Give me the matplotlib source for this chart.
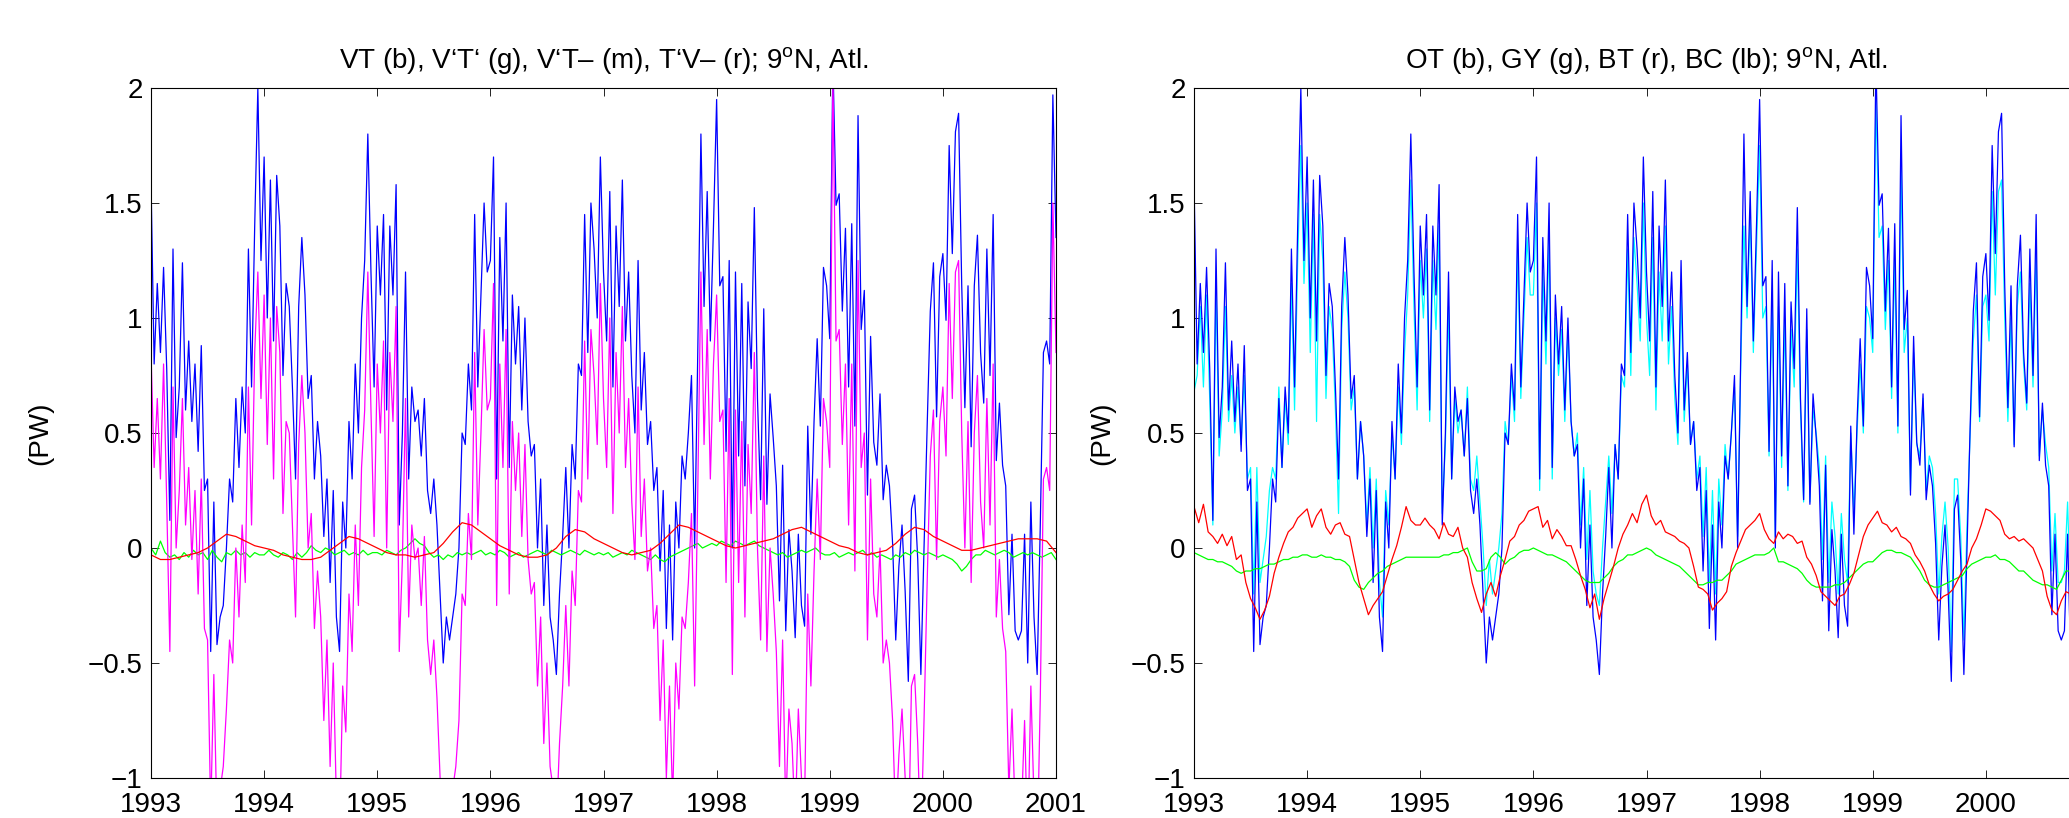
import matplotlib
matplotlib.use('Agg')
import matplotlib.pyplot as plt
import numpy as np

plt.rcParams['font.family'] = ['Liberation Sans', 'DejaVu Sans']
plt.rcParams['mathtext.fontset'] = 'custom'
plt.rcParams['mathtext.rm'] = 'Liberation Sans'

# ---- data: 10-day samples (36 per year) ----
blue_1993 = [1.60, 0.80, 1.15, 0.85, 1.22, 0.78, 0.12, 1.30, 0.48, 0.70, 1.24, 0.60, 0.90, 0.55, 0.80, 0.42, 0.88, 0.25,
             0.30, -0.45, 0.20, -0.42, -0.30, -0.25, 0.00, 0.30, 0.20, 0.65, 0.35, 0.70, 0.50, 1.30, 0.70, 1.40, 2.00, 1.25]
blue_1994 = [1.70, 1.00, 1.60, 0.90, 1.62, 1.40, 0.75, 1.15, 1.05, 0.70, 0.30, 1.05, 1.35, 1.10, 0.65, 0.75, 0.30, 0.55,
             0.40, 0.05, 0.30, -0.15, 0.25, -0.30, -0.45, 0.20, 0.00, 0.55, 0.30, 0.80, 0.50, 1.00, 1.25, 1.80, 1.20, 0.70]
blue_1995 = [1.40, 1.10, 1.45, 0.60, 1.40, 1.10, 1.58, 0.10, 0.50, 1.20, 0.30, 0.70, 0.55, 0.60, 0.40, 0.65, 0.25, 0.15,
             0.30, 0.10, -0.20, -0.50, -0.30, -0.40, -0.30, -0.20, 0.00, 0.50, 0.45, 0.80, 0.60, 1.45, 0.70, 1.10, 1.50, 1.20]
blue_1996 = [1.25, 1.70, 0.30, 1.35, 0.90, 1.50, 0.35, 1.10, 0.80, 1.05, 0.60, 1.00, 0.55, 0.40, 0.45, 0.00, 0.30, -0.25,
             0.10, -0.30, -0.40, -0.55, -0.20, 0.05, 0.35, 0.00, 0.45, 0.30, 0.80, 0.75, 1.45, 0.85, 1.50, 1.30, 1.00, 1.70]
blue_1997 = [1.20, 0.90, 1.55, 0.70, 1.40, 1.05, 1.60, 0.90, 1.20, 0.75, 0.50, 1.25, 0.60, 0.85, 0.45, 0.55, 0.25, 0.35,
             -0.10, 0.25, -0.35, 0.10, -0.40, 0.20, 0.00, 0.40, 0.30, 0.50, 0.75, 0.00, 0.85, 1.80, 1.05, 1.55, 0.90, 1.40]
blue_1998 = [1.95, 1.14, 1.18, 0.42, 1.25, 0.00, 1.20, 0.40, 1.15, 0.27, 1.07, 0.78, 1.48, 0.65, 0.21, 1.04, 0.19, 0.67,
             0.48, 0.27, -0.23, 0.36, -0.36, 0.08, -0.10, -0.39, 0.06, -0.25, -0.34, 0.53, 0.06, 0.55, 0.91, 0.53, 1.22, 1.14]
blue_1999 = [0.91, 2.12, 1.49, 1.54, 1.03, 1.39, 0.70, 1.41, 0.53, 1.88, 0.95, 1.12, 0.23, 0.92, 0.46, 0.36, 0.67, 0.21,
             0.36, 0.27, 0.02, -0.40, -0.08, 0.10, -0.19, -0.58, 0.17, 0.23, -0.05, -0.55, 0.00, 0.53, 1.03, 1.24, 0.57, 1.18]
blue_2000 = [1.28, 0.99, 1.75, 1.28, 1.81, 1.89, 1.14, 0.61, 1.14, 0.44, 1.14, 1.36, 0.85, 0.63, 1.30, 0.75, 1.45, 0.38,
             0.63, 0.36, 0.27, -0.29, 0.06, -0.36, -0.40, -0.36, 0.06, -0.50, 0.20, -0.30, -0.55, 0.10, 0.85, 0.90, 0.80, 1.97]
blue_end = [1.35]

mag_1993 = [0.85, 0.35, 0.65, 0.30, 0.80, 0.20, -0.45, 0.70, 0.00, 0.25, 0.65, 0.10, 0.35, -0.05, 0.25, -0.20, 0.30, -0.35,
            -0.40, -1.15, -0.55, -1.20, -1.05, -0.95, -0.70, -0.40, -0.50, 0.00, -0.30, 0.10, -0.15, 0.70, 0.10, 0.85, 1.20, 0.65]
mag_1994 = [1.10, 0.45, 1.00, 0.30, 1.05, 0.85, 0.15, 0.55, 0.50, 0.10, -0.30, 0.45, 0.75, 0.50, 0.00, 0.15, -0.35, -0.10,
            -0.30, -0.75, -0.40, -0.95, -0.50, -1.10, -1.25, -0.60, -0.80, -0.20, -0.45, 0.10, -0.25, 0.35, 0.60, 1.20, 0.60, 0.05]
mag_1995 = [0.80, 0.50, 0.90, 0.00, 0.85, 0.55, 1.05, -0.45, -0.05, 0.65, -0.30, 0.10, -0.05, 0.00, -0.25, 0.05, -0.40, -0.55,
            -0.40, -0.65, -1.00, -1.30, -1.10, -1.20, -1.05, -0.95, -0.75, -0.20, -0.25, 0.15, -0.05, 0.85, 0.10, 0.50, 0.95, 0.60]
mag_1996 = [0.65, 1.15, -0.25, 0.80, 0.35, 0.95, -0.20, 0.55, 0.25, 0.50, 0.05, 0.45, -0.05, -0.20, -0.15, -0.60, -0.30, -0.85,
            -0.50, -0.95, -1.05, -1.20, -0.85, -0.60, -0.25, -0.60, -0.10, -0.25, 0.25, 0.20, 0.90, 0.30, 0.95, 0.75, 0.45, 1.15]
mag_1997 = [0.65, 0.35, 1.00, 0.15, 0.85, 0.50, 1.05, 0.35, 0.65, 0.20, -0.05, 0.70, 0.05, 0.30, -0.10, 0.00, -0.35, -0.25,
            -0.75, -0.40, -1.00, -0.60, -1.10, -0.50, -0.70, -0.30, -0.35, -0.15, 0.15, -0.60, 0.25, 1.20, 0.45, 0.95, 0.30, 0.80]
mag_1998 = [1.10, 0.55, 0.60, -0.15, 0.65, -0.55, 0.60, -0.15, 0.55, -0.30, 0.45, 0.15, 0.85, 0.00, -0.40, 0.40, -0.45, 0.00,
            -0.20, -0.45, -0.95, -0.40, -1.15, -0.70, -0.85, -1.20, -0.70, -1.00, -1.10, -0.20, -0.60, -0.10, 0.30, -0.05, 0.65, 0.55]
mag_1999 = [0.35, 2.05, 0.90, 0.95, 0.45, 0.80, 0.10, 0.80, -0.10, 1.25, 0.35, 0.50, -0.40, 0.30, -0.20, -0.30, 0.00, -0.50,
            -0.40, -0.50, -0.75, -1.20, -0.90, -0.70, -1.00, -1.35, -0.60, -0.55, -0.85, -1.30, -0.75, -0.15, 0.40, 0.60, -0.05, 0.55]
mag_2000 = [0.70, 0.40, 1.15, 0.65, 1.20, 1.25, 0.50, 0.00, 0.55, -0.15, 0.50, 0.75, 0.20, 0.00, 0.65, 0.10, 0.80, -0.30,
            -0.05, -0.35, -0.45, -1.05, -0.70, -1.15, -1.20, -1.15, -0.75, -1.30, -0.60, -1.10, -1.35, -0.65, 0.30, 0.35, 0.25, 1.50]
mag_end = [0.85]

cyan_1993 = [0.68, 0.75, 1.05, 0.70, 1.10, 0.65, 0.10, 1.15, 0.40, 0.60, 1.05, 0.55, 0.75, 0.50, 0.70, 0.45, 0.75, 0.30,
             0.35, -0.20, 0.35, -0.15, -0.05, 0.05, 0.25, 0.35, 0.30, 0.70, 0.35, 0.65, 0.45, 1.15, 0.60, 1.25, 1.75, 1.15]
cyan_1994 = [1.50, 0.85, 1.45, 0.55, 1.45, 1.25, 0.65, 1.05, 0.95, 0.60, 0.15, 0.95, 1.20, 1.00, 0.60, 0.70, 0.30, 0.55,
             0.40, 0.10, 0.35, 0.00, 0.30, -0.15, -0.30, 0.25, 0.10, 0.50, 0.30, 0.70, 0.45, 0.85, 1.10, 1.60, 1.05, 0.60]
cyan_1995 = [1.25, 1.00, 1.30, 0.55, 1.25, 0.95, 1.40, 0.15, 0.45, 1.05, 0.30, 0.65, 0.50, 0.60, 0.40, 0.70, 0.30, 0.25,
             0.40, 0.20, 0.00, -0.25, -0.05, -0.20, -0.10, 0.00, 0.15, 0.55, 0.45, 0.75, 0.55, 1.30, 0.65, 1.00, 1.35, 1.10]
cyan_1996 = [1.10, 1.50, 0.25, 1.20, 0.80, 1.35, 0.30, 1.00, 0.75, 0.95, 0.55, 0.95, 0.55, 0.40, 0.50, 0.10, 0.35, -0.05,
             0.25, -0.10, -0.20, -0.25, 0.00, 0.20, 0.40, 0.15, 0.45, 0.30, 0.75, 0.70, 1.30, 0.75, 1.35, 1.15, 0.90, 1.50]
cyan_1997 = [1.00, 0.75, 1.35, 0.60, 1.20, 0.90, 1.40, 0.80, 1.05, 0.65, 0.45, 1.10, 0.55, 0.80, 0.45, 0.55, 0.30, 0.40,
             0.05, 0.35, -0.15, 0.25, -0.20, 0.30, 0.10, 0.45, 0.30, 0.50, 0.70, 0.05, 0.80, 1.40, 1.00, 1.45, 0.85, 1.30]
cyan_1998 = [1.75, 1.00, 1.05, 0.40, 1.10, 0.05, 1.05, 0.35, 1.00, 0.25, 0.95, 0.70, 1.30, 0.60, 0.20, 0.95, 0.20, 0.60,
             0.50, 0.35, -0.05, 0.40, -0.15, 0.20, 0.05, -0.20, 0.15, -0.05, -0.15, 0.50, 0.15, 0.50, 0.80, 0.50, 1.05, 1.00]
cyan_1999 = [0.85, 1.95, 1.35, 1.40, 0.95, 1.25, 0.65, 1.25, 0.50, 1.65, 0.85, 1.00, 0.25, 0.85, 0.45, 0.40, 0.65, 0.25,
             0.40, 0.35, 0.15, -0.20, 0.05, 0.20, 0.00, -0.45, 0.30, 0.30, 0.05, -0.40, 0.10, 0.50, 0.90, 1.10, 0.55, 1.05]
cyan_2000 = [1.10, 0.90, 1.55, 1.10, 1.55, 1.60, 1.00, 0.55, 1.00, 0.45, 1.05, 1.20, 0.80, 0.60, 1.15, 0.70, 1.30, 0.40,
             0.60, 0.45, 0.35, -0.10, 0.15, -0.15, -0.15, -0.10, 0.20, -0.25, 0.30, -0.05, -0.30, 0.25, 0.80, 0.85, 0.75, 1.75]
cyan_end = [1.20]

# ---- data: half-monthly samples (24 per year) ----
bt_1993 = [0.18, 0.11, 0.19, 0.07, 0.05, 0.02, 0.06, 0.01, 0.05, -0.05, -0.03, -0.15,
           -0.22, -0.26, -0.31, -0.27, -0.21, -0.11, -0.04, 0.02, 0.07, 0.09, 0.13, 0.15]
bt_1994 = [0.17, 0.09, 0.14, 0.17, 0.09, 0.06, 0.10, 0.11, 0.06, 0.05, -0.05, -0.15,
           -0.22, -0.29, -0.25, -0.22, -0.19, -0.12, -0.05, 0.01, 0.09, 0.18, 0.12, 0.10]
bt_1995 = [0.10, 0.13, 0.10, 0.08, 0.04, 0.11, 0.06, 0.05, 0.09, 0.00, -0.04, -0.15,
           -0.22, -0.28, -0.20, -0.15, -0.21, -0.12, -0.05, 0.03, 0.05, 0.10, 0.12, 0.16]
bt_1996 = [0.17, 0.18, 0.09, 0.12, 0.04, 0.08, 0.05, 0.01, 0.01, -0.05, -0.12, -0.18,
           -0.26, -0.20, -0.31, -0.22, -0.15, -0.08, 0.00, 0.06, 0.10, 0.15, 0.11, 0.19]
bt_1997 = [0.23, 0.14, 0.10, 0.12, 0.07, 0.06, 0.05, 0.03, 0.02, 0.00, -0.08, -0.17,
           -0.18, -0.20, -0.27, -0.24, -0.22, -0.19, -0.08, -0.02, 0.03, 0.08, 0.10, 0.12]
bt_1998 = [0.15, 0.08, 0.04, 0.02, 0.07, 0.04, 0.06, 0.05, 0.02, 0.03, -0.04, -0.07,
           -0.12, -0.19, -0.21, -0.23, -0.25, -0.21, -0.20, -0.16, -0.11, -0.03, 0.05, 0.10]
bt_1999 = [0.13, 0.16, 0.11, 0.10, 0.07, 0.09, 0.05, 0.04, 0.02, -0.03, -0.06, -0.10,
           -0.16, -0.20, -0.23, -0.21, -0.20, -0.18, -0.14, -0.10, -0.07, 0.00, 0.04, 0.10]
bt_2000 = [0.17, 0.16, 0.14, 0.12, 0.06, 0.04, 0.05, 0.03, 0.04, 0.02, 0.00, -0.05,
           -0.10, -0.21, -0.27, -0.29, -0.23, -0.19, -0.20, -0.15, -0.08, 0.00, 0.06, 0.10]
bt_end = [0.12]

gy_1993 = [-0.02, -0.03, -0.04, -0.05, -0.05, -0.06, -0.06, -0.07, -0.08, -0.10, -0.11, -0.10,
           -0.10, -0.09, -0.09, -0.08, -0.07, -0.07, -0.06, -0.05, -0.05, -0.04, -0.04, -0.03]
gy_1994 = [-0.03, -0.04, -0.04, -0.03, -0.04, -0.04, -0.05, -0.05, -0.06, -0.08, -0.14, -0.17,
           -0.18, -0.15, -0.13, -0.11, -0.10, -0.08, -0.07, -0.06, -0.05, -0.04, -0.04, -0.04]
gy_1995 = [-0.04, -0.04, -0.04, -0.04, -0.04, -0.03, -0.03, -0.02, -0.02, -0.01, 0.00, -0.06,
           -0.10, -0.10, -0.09, -0.04, -0.02, -0.04, -0.07, -0.05, -0.04, -0.02, -0.01, -0.01]
gy_1996 = [0.00, -0.01, -0.02, -0.03, -0.03, -0.04, -0.05, -0.06, -0.08, -0.10, -0.12, -0.14,
           -0.15, -0.15, -0.15, -0.13, -0.11, -0.08, -0.06, -0.05, -0.03, -0.03, -0.02, -0.01]
gy_1997 = [0.00, -0.01, -0.03, -0.04, -0.05, -0.06, -0.07, -0.08, -0.10, -0.12, -0.14, -0.16,
           -0.16, -0.15, -0.15, -0.14, -0.14, -0.12, -0.10, -0.07, -0.06, -0.05, -0.04, -0.03]
gy_1998 = [-0.03, -0.03, -0.02, 0.00, -0.06, -0.06, -0.07, -0.08, -0.09, -0.11, -0.14, -0.16,
           -0.17, -0.17, -0.17, -0.17, -0.16, -0.16, -0.15, -0.13, -0.11, -0.09, -0.07, -0.06]
gy_1999 = [-0.06, -0.04, -0.02, -0.01, -0.01, -0.02, -0.02, -0.03, -0.04, -0.07, -0.10, -0.14,
           -0.16, -0.17, -0.17, -0.16, -0.15, -0.14, -0.13, -0.12, -0.09, -0.07, -0.06, -0.05]
gy_2000 = [-0.04, -0.04, -0.03, -0.05, -0.05, -0.06, -0.08, -0.10, -0.10, -0.12, -0.14, -0.15,
           -0.16, -0.16, -0.17, -0.18, -0.14, -0.10, -0.10, -0.08, -0.06, -0.05, -0.04, -0.03]
gy_end = [-0.03]

vptp_1993 = [0.00, -0.03, 0.03, -0.02, -0.04, -0.03, -0.05, -0.02, -0.04, -0.01, -0.03, -0.02,
             -0.05, -0.01, -0.04, -0.06, -0.02, -0.03, -0.01, -0.03, -0.02, -0.04, -0.02, -0.03]
vptp_1994 = [-0.03, -0.01, -0.03, -0.04, -0.02, -0.03, -0.05, -0.02, -0.04, -0.02, 0.01, -0.01,
             -0.02, 0.00, -0.01, -0.03, -0.02, -0.01, -0.03, -0.02, -0.03, -0.01, -0.03, -0.02]
vptp_1995 = [-0.02, -0.03, -0.01, -0.02, -0.03, -0.01, 0.00, 0.02, 0.04, 0.02, 0.01, -0.02,
             -0.04, -0.03, -0.05, -0.03, -0.04, -0.02, -0.03, -0.02, -0.03, -0.02, -0.01, -0.03]
vptp_1996 = [-0.02, -0.03, -0.01, -0.02, -0.04, -0.03, -0.02, -0.04, -0.03, -0.02, -0.01, -0.02,
             -0.03, -0.01, -0.02, -0.03, -0.02, -0.01, -0.02, -0.03, -0.01, -0.02, -0.03, -0.02]
vptp_1997 = [-0.03, -0.02, -0.04, -0.03, -0.02, -0.03, -0.01, -0.02, -0.03, -0.04, -0.05, -0.03,
             -0.05, -0.06, -0.04, -0.03, -0.02, -0.01, 0.00, 0.01, 0.02, 0.00, 0.01, 0.02]
vptp_1998 = [0.01, 0.03, 0.02, 0.01, 0.03, 0.02, 0.01, 0.02, 0.03, 0.01, 0.00, -0.01,
             -0.02, -0.03, -0.02, -0.04, -0.03, -0.02, -0.01, -0.02, -0.01, 0.00, -0.02, -0.03]
vptp_1999 = [-0.03, -0.02, -0.04, -0.03, -0.02, -0.03, -0.02, -0.01, -0.03, -0.02, -0.04, -0.03,
             -0.04, -0.05, -0.03, -0.04, -0.02, -0.03, -0.01, -0.02, -0.03, -0.02, -0.03, -0.04]
vptp_2000 = [-0.03, -0.04, -0.05, -0.07, -0.10, -0.08, -0.05, -0.03, -0.03, -0.01, -0.02, -0.03,
             -0.02, -0.01, -0.02, -0.04, -0.03, -0.02, -0.03, -0.02, -0.03, -0.04, -0.03, -0.02]
vptp_end = [-0.05]

# ---- data: monthly samples (12 per year) ----
tpvm_1993 = [-0.03, -0.05, -0.05, -0.04, -0.03, -0.02, 0.00, 0.03, 0.06, 0.05, 0.03, 0.01]
tpvm_1994 = [0.00, -0.01, -0.03, -0.04, -0.05, -0.05, -0.04, -0.01, 0.02, 0.05, 0.04, 0.02]
tpvm_1995 = [0.00, -0.02, -0.03, -0.03, -0.04, -0.03, -0.02, 0.02, 0.07, 0.11, 0.10, 0.07]
tpvm_1996 = [0.04, 0.01, -0.01, -0.03, -0.04, -0.04, -0.03, 0.00, 0.05, 0.08, 0.07, 0.04]
tpvm_1997 = [0.02, 0.00, -0.02, -0.03, -0.02, -0.01, 0.02, 0.06, 0.10, 0.09, 0.07, 0.05]
tpvm_1998 = [0.03, 0.01, 0.00, 0.01, 0.02, 0.03, 0.04, 0.06, 0.08, 0.09, 0.07, 0.05]
tpvm_1999 = [0.03, 0.01, 0.00, -0.02, -0.03, -0.02, -0.01, 0.02, 0.06, 0.09, 0.08, 0.05]
tpvm_2000 = [0.03, 0.01, -0.01, -0.01, 0.00, 0.01, 0.02, 0.03, 0.04, 0.04, 0.04, 0.03]
tpvm_end = [-0.02]

vt = blue_1993 + blue_1994 + blue_1995 + blue_1996 + blue_1997 + blue_1998 + blue_1999 + blue_2000 + blue_end
vptm = mag_1993 + mag_1994 + mag_1995 + mag_1996 + mag_1997 + mag_1998 + mag_1999 + mag_2000 + mag_end
bc = cyan_1993 + cyan_1994 + cyan_1995 + cyan_1996 + cyan_1997 + cyan_1998 + cyan_1999 + cyan_2000 + cyan_end
bt = bt_1993 + bt_1994 + bt_1995 + bt_1996 + bt_1997 + bt_1998 + bt_1999 + bt_2000 + bt_end
gy = gy_1993 + gy_1994 + gy_1995 + gy_1996 + gy_1997 + gy_1998 + gy_1999 + gy_2000 + gy_end
vptp = vptp_1993 + vptp_1994 + vptp_1995 + vptp_1996 + vptp_1997 + vptp_1998 + vptp_1999 + vptp_2000 + vptp_end
tpvm = tpvm_1993 + tpvm_1994 + tpvm_1995 + tpvm_1996 + tpvm_1997 + tpvm_1998 + tpvm_1999 + tpvm_2000 + tpvm_end

t36 = np.linspace(1993, 2001, len(vt))
t24 = np.linspace(1993, 2001, len(bt))
t12 = np.linspace(1993, 2001, len(tpvm))

years = list(range(1993, 2002))
yticks = [-1, -0.5, 0, 0.5, 1, 1.5, 2]

fig = plt.figure(figsize=(20.69, 8.18), dpi=100)
ax1 = fig.add_axes([151 / 2069, 40 / 818, 905 / 2069, 690 / 818])
ax2 = fig.add_axes([1194 / 2069, 40 / 818, 905 / 2069, 690 / 818])

lw = 0.9
ax1.plot(t36, vt, color=(0, 0, 1), lw=lw)
ax1.plot(t24, vptp, color=(0, 1, 0), lw=lw)
ax1.plot(t36, vptm, color=(1, 0, 1), lw=lw)
ax1.plot(t12, tpvm, color=(1, 0, 0), lw=lw)
ax1.set_title('VT (b), V‘T‘ (g), V‘T– (m), T‘V– (r); 9$^{\\rm o}$N, Atl.', fontsize=20, pad=14)

ax2.plot(t36, bc, color=(0, 1, 1), lw=lw)
ax2.plot(t36, vt, color=(0, 0, 1), lw=lw)
ax2.plot(t24, gy, color=(0, 1, 0), lw=lw)
ax2.plot(t24, bt, color=(1, 0, 0), lw=lw)
ax2.set_title('OT (b), GY (g), BT (r), BC (lb); 9$^{\\rm o}$N, Atl.', fontsize=20, pad=14)

for ax, lx in ((ax1, -0.108), (ax2, -0.087)):
    ax.set_xlim(1993, 2001)
    ax.set_ylim(-1, 2)
    ax.set_xticks(years)
    ax.set_xticklabels([str(y) for y in years])
    ax.set_yticks(yticks)
    ax.set_yticklabels(['\u22121', '\u22120.5', '0', '0.5', '1', '1.5', '2'])
    ax.tick_params(direction='in', length=6, width=0.6, labelsize=20, top=True, right=True)
    ax.tick_params(axis='x', pad=10)
    ax.tick_params(axis='y', pad=6)
    for s in ax.spines.values():
        s.set_linewidth(0.8)
    ax.set_ylabel('(PW)', fontsize=20)
    ax.yaxis.set_label_coords(lx, 0.5)

fig.savefig('out.png', dpi=100)
